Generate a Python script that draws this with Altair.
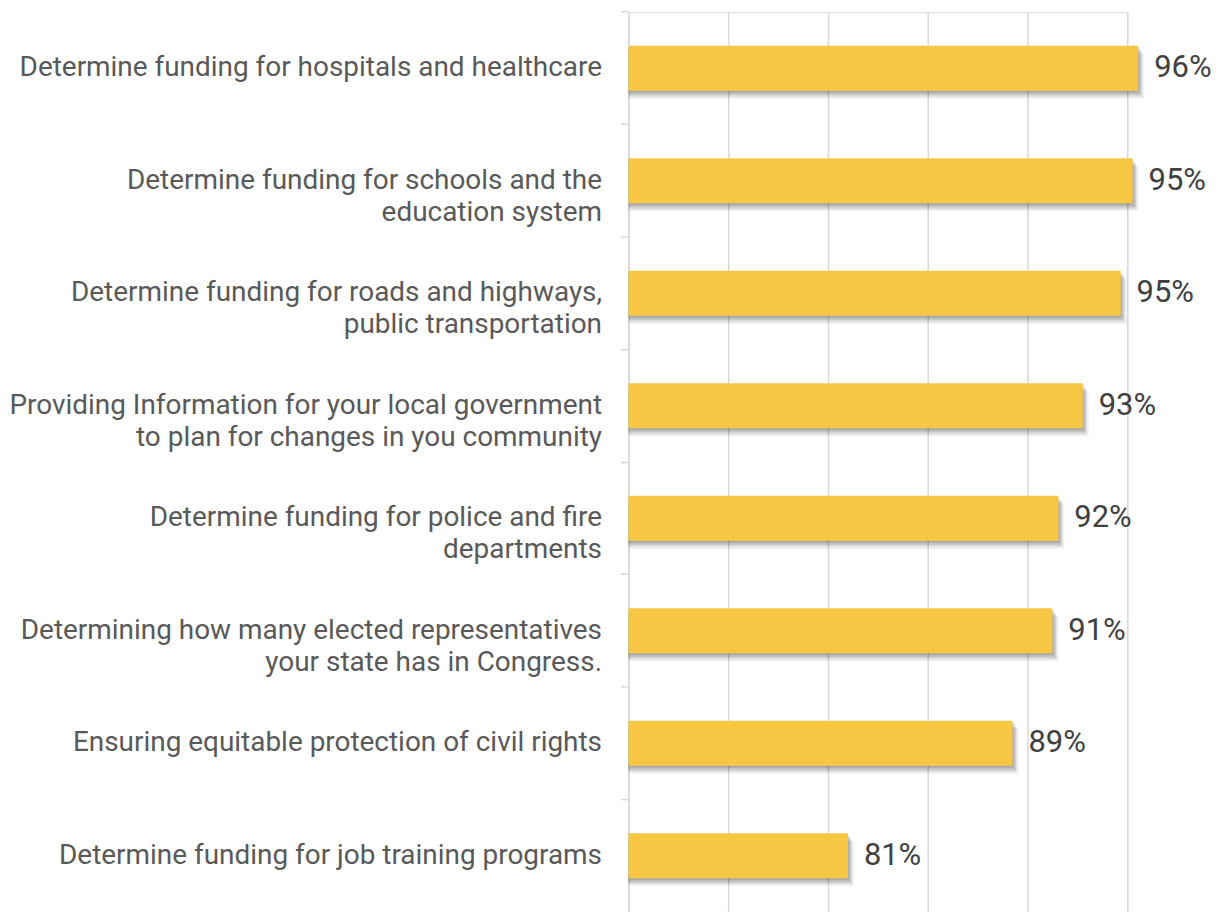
import altair as alt
import pandas as pd

categories = [
    "Determine funding for hospitals and healthcare",
    "Determine funding for schools and the|education system",
    "Determine funding for roads and highways,|public transportation",
    "Providing Information for your local government|to plan for changes in you community",
    "Determine funding for police and fire|departments",
    "Determining how many elected representatives|your state has in Congress.",
    "Ensuring equitable protection of civil rights ",
    "Determine funding for job training programs",
]
values = [95.55, 95.27, 94.67, 92.77, 91.55, 91.25, 89.25, 81.0]
x_ticks = [70, 75, 80, 85, 90, 95]

df = pd.DataFrame({"cat": categories, "value": values})

FONT = "Roboto"
GRID = "#D9D9D9"
BAR = "#F7C744"

x_scale = alt.Scale(domain=[70, 95], nice=False, zero=False)
y_scale = alt.Scale(domain=categories, paddingInner=0.6, paddingOuter=0.3)

X = alt.X(
    "value:Q",
    scale=x_scale,
    axis=alt.Axis(
        values=x_ticks, labels=False, ticks=False, domain=False, title=None,
        grid=True, gridColor=GRID, gridWidth=1.5,
    ),
)
Y = alt.Y(
    "cat:N",
    scale=y_scale,
    sort=categories,
    axis=alt.Axis(
        title=None, domain=True, domainColor=GRID, domainWidth=1.5,
        ticks=True, tickColor=GRID, tickWidth=1.5, tickSize=8,
        bandPosition=-0.75,
        labelExpr="split(datum.label, '|')", labelFont=FONT, labelFontSize=28,
        labelColor="#595959", labelLineHeight=32, labelLimit=700, labelPadding=19,
        labelAlign="right", grid=False,
    ),
)

base = alt.Chart(df)


def shadow(dx, dy, op):
    return base.mark_bar(color="#000000", opacity=op, xOffset=dx, yOffset=dy).encode(
        x=X, x2=alt.datum(70), y=Y
    )


bars = base.mark_bar(color=BAR).encode(x=X, x2=alt.datum(70), y=Y)

labels = base.transform_calculate(
    lab="format(datum.value, '.0f') + '%'"
).mark_text(
    align="left", baseline="middle", dx=16, font=FONT, fontSize=31, color="#404040"
).encode(x=X, y=Y, text="lab:N")

chart = alt.layer(
    shadow(1, 2, 0.12), shadow(3, 4, 0.11), shadow(4, 6, 0.09), shadow(6, 8, 0.06),
    bars,
    labels,
).properties(
    width=500, height=902,
    padding={"left": 0, "top": 1, "right": 5, "bottom": 0},
).configure_view(stroke=None, strokeWidth=0).configure(background="white")

chart.save("out.html", embed_options={"renderer": "svg", "actions": False})
